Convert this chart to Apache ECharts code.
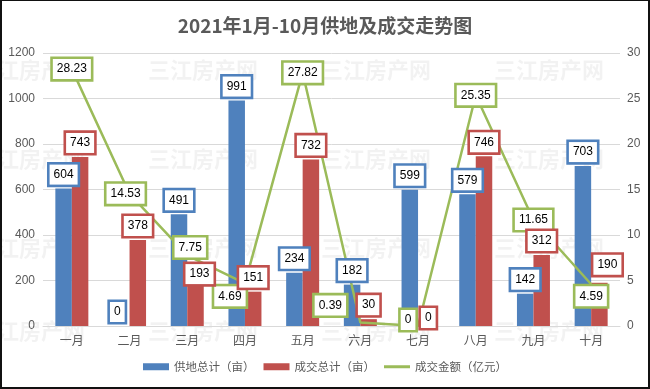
<!DOCTYPE html>
<html><head><meta charset="utf-8">
<script src="https://cdn.jsdelivr.net/npm/echarts@6/dist/echarts.min.js"></script>
<style>
html,body{margin:0;padding:0;background:#fff;}
#wrap{position:relative;width:650px;height:389px;}
#chart{position:absolute;left:0;top:0;width:650px;height:389px;}
#frame{position:absolute;left:0;top:0;width:650px;height:389px;box-sizing:border-box;border:solid #111;border-width:1px 2px 2px 2px;pointer-events:none;}
</style></head>
<body><div id="wrap"><div id="chart"></div><div id="frame"></div></div>
<script>
const categories = ['一月','二月','三月','四月','五月','六月','七月','八月','九月','十月'];
const supplyArea = [604, 0, 491, 991, 234, 182, 599, 579, 142, 703];
const dealArea = [743, 378, 193, 151, 732, 30, 0, 746, 312, 190];
const dealAmount = [28.23, 14.53, 7.75, 4.69, 27.82, 0.39, 0, 25.35, 11.65, 4.59];
const seriesNames = ['供地总计（亩）','成交总计（亩）','成交金额（亿元）'];
const titleText = '2021年1月-10月供地及成交走势图';
const watermarkText = '三江房产网';

const BLUE = '#4F81BD', RED = '#C0504D', GREEN = '#9BBB59';
const CJK = '"Noto Sans CJK SC", sans-serif';
const NUM = '"Liberation Sans", Arial, sans-serif';

// manual label nudges (style only)
const redOffsets = {2: [4, 6], 6: [2, 6], 9: [8, -4]};
const blueOffsets = {1: [-4, 0]};
const greenOffsets = {1: [-4, 0], 2: [3, -8], 3: [-15, 13], 5: [-30, -17], 6: [-10, -6], 9: [0, 12]};

function boxLabel(color, pos) {
  return {show: true, position: pos, distance: 4, color: '#000', fontSize: 12, fontFamily: NUM,
    backgroundColor: '#fff', borderColor: color, borderWidth: 2.6, padding: [4, 4]};
}
// zero-height stacked bars that sit on top of each real bar and carry its label above the line
function labelCarrier(values, offs, color, stack) {
  const lbl = boxLabel(color, 'top');
  lbl.formatter = p => String(values[p.dataIndex]);
  return {name: stack + '-label', type: 'bar', stack: stack, barWidth: 16.5, barGap: '0%', z: 5,
    itemStyle: {color: 'rgba(0,0,0,0)'}, label: lbl, silent: true,
    data: values.map((v, i) => offs[i] ? {value: 0, label: {offset: offs[i]}} : 0)};
}
function withOffsets(arr, offs) {
  return arr.map((v, i) => offs[i] ? {value: v, label: {offset: offs[i]}} : v);
}

const wm = [];
[72, 161, 250, 333].forEach(y => {
  [-25, 148, 321, 494].forEach(x => {
    wm.push({type: 'text', left: x, top: y - 13, z: 0, silent: true,
      style: {text: watermarkText, fill: 'rgba(0,0,0,0.05)', font: 'bold 22px "Noto Sans CJK SC"'}});
  });
});

const chart = echarts.init(document.getElementById('chart'), null, {renderer: 'canvas'});
chart.setOption({
  backgroundColor: '#fff',
  animation: false,
  graphic: wm,
  title: {text: titleText, left: 'center', top: 16, padding: 0,
    textStyle: {fontSize: 19, fontWeight: 'bold', color: '#595959', fontFamily: CJK}},
  legend: {top: 361, left: 'center', padding: 0, itemWidth: 26, itemHeight: 7, itemGap: 9,
    textStyle: {fontSize: 11.5, color: '#595959', fontFamily: CJK},
    data: [
      {name: seriesNames[0], icon: 'rect'},
      {name: seriesNames[1], icon: 'rect'},
      {name: seriesNames[2], icon: 'path://M0,0 L26,0 L26,3 L0,3 Z'}
    ]},
  grid: {left: 43, right: 30, top: 53, bottom: 63, containLabel: false},
  xAxis: {type: 'category', data: categories, boundaryGap: true,
    axisLine: {show: true, lineStyle: {color: '#D9D9D9'}},
    axisTick: {show: false},
    axisLabel: {color: '#595959', fontSize: 12, fontFamily: CJK, margin: 8}},
  yAxis: [
    {type: 'value', min: 0, max: 1200, interval: 200,
      axisLine: {show: false}, axisTick: {show: false},
      axisLabel: {color: '#595959', fontSize: 12, fontFamily: NUM, margin: 8, formatter: v => String(v)},
      splitLine: {lineStyle: {color: '#D9D9D9', width: 1}}},
    {type: 'value', min: 0, max: 30, interval: 5,
      axisLine: {show: false}, axisTick: {show: false},
      axisLabel: {color: '#595959', fontSize: 12, fontFamily: NUM, margin: 7, formatter: v => String(v)},
      splitLine: {show: false}}
  ],
  series: [
    {name: seriesNames[0], type: 'bar', stack: 'supply', barWidth: 16.5, barGap: '0%', z: 2,
      itemStyle: {color: BLUE}, data: supplyArea},
    labelCarrier(supplyArea, blueOffsets, BLUE, 'supply'),
    {name: seriesNames[1], type: 'bar', stack: 'deal', barWidth: 16.5, barGap: '0%', z: 2,
      itemStyle: {color: RED}, data: dealArea},
    labelCarrier(dealArea, redOffsets, RED, 'deal'),
    {name: seriesNames[2], type: 'line', yAxisIndex: 1, z: 3,
      symbol: 'circle', symbolSize: 1, showSymbol: true,
      itemStyle: {color: GREEN}, lineStyle: {color: GREEN, width: 2.5},
      label: boxLabel(GREEN, 'inside'),
      data: withOffsets(dealAmount, greenOffsets)}
  ]
});
</script></body></html>
